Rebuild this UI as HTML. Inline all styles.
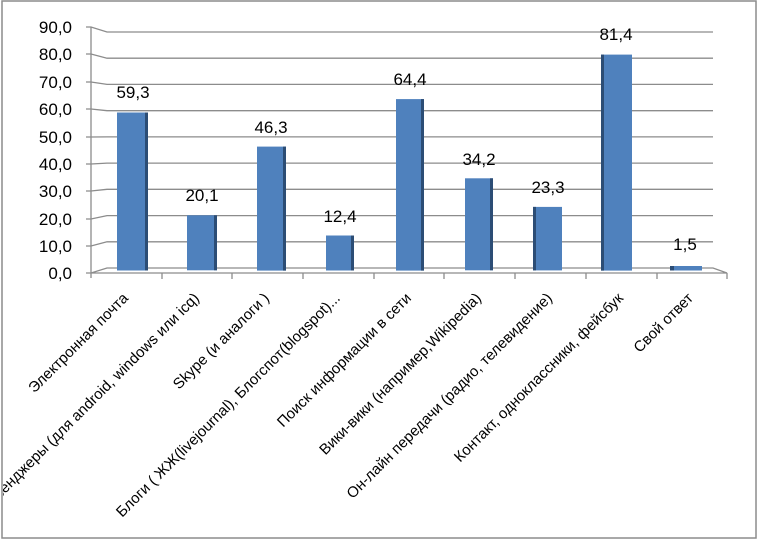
<!DOCTYPE html>
<html><head><meta charset="utf-8"><style>
html,body{margin:0;padding:0;background:#fff;}
svg{display:block;}
text{font-family:"Liberation Sans","DejaVu Sans",sans-serif;fill:#000;}
</style></head><body>
<svg width="758" height="540" viewBox="0 0 758 540" xmlns="http://www.w3.org/2000/svg">
<defs><clipPath id="c"><rect x="3" y="2" width="752" height="535"/></clipPath></defs>
<rect x="0" y="0" width="758" height="540" fill="#fff"/>
<rect x="2" y="1" width="754" height="537" fill="none" stroke="#8c8c8c" stroke-width="1.5"/>
<g stroke="#8c8c8c" stroke-width="1.3" fill="none">
<path d="M86 27 L91 27 L107 32 L713 32"/>
<path d="M86 54 L91 54 L107 58.2 L713 58.2"/>
<path d="M86 82 L91 82 L107 84.4 L713 84.4"/>
<path d="M86 109 L91 109 L107 110.7 L713 110.7"/>
<path d="M86 137 L91 137 L107 136.9 L713 136.9"/>
<path d="M86 164 L91 164 L107 163.1 L713 163.1"/>
<path d="M86 191 L91 191 L107 189.3 L713 189.3"/>
<path d="M86 219 L91 219 L107 215.6 L713 215.6"/>
<path d="M86 246 L91 246 L107 241.8 L713 241.8"/>
<path d="M86 273 L91 273 L107 268 L713 268 L727 273 L91 273"/>
<path d="M91 27 L91 278"/>
<path d="M162 273 V279 M232 273 V279 M303 273 V279 M374 273 V279 M444 273 V279 M515 273 V279 M586 273 V279 M657 273 V279 M727 273 V279"/>
</g>
<g font-size="17" text-anchor="end">
<text x="72" y="33">90,0</text><text x="72" y="60">80,0</text><text x="72" y="88">70,0</text><text x="72" y="115">60,0</text><text x="72" y="143">50,0</text><text x="72" y="170">40,0</text><text x="72" y="197">30,0</text><text x="72" y="225">20,0</text><text x="72" y="252">10,0</text><text x="72" y="279">0,0</text>
</g>
<g>
<rect x="117" y="112.5" width="31" height="158" fill="#4f81bd"/><rect x="145" y="112.5" width="3" height="158" fill="#2c4d75"/>
<rect x="187" y="215.3" width="30" height="55" fill="#4f81bd"/><rect x="214" y="215.3" width="3" height="55" fill="#2c4d75"/>
<rect x="257" y="146.6" width="29" height="124" fill="#4f81bd"/><rect x="283" y="146.6" width="3" height="124" fill="#2c4d75"/>
<rect x="326" y="235.5" width="28" height="35" fill="#4f81bd"/><rect x="351" y="235.5" width="3" height="35" fill="#2c4d75"/>
<rect x="396" y="99.1" width="28" height="171.5" fill="#4f81bd"/><rect x="421" y="99.1" width="3" height="171.5" fill="#2c4d75"/>
<rect x="465" y="178.3" width="28" height="92" fill="#4f81bd"/><rect x="490" y="178.3" width="3" height="92" fill="#2c4d75"/>
<rect x="533" y="206.9" width="29" height="63.5" fill="#4f81bd"/><rect x="533" y="206.9" width="3" height="63.5" fill="#2c4d75"/>
<rect x="601" y="54.6" width="31" height="216" fill="#4f81bd"/><rect x="601" y="54.6" width="3" height="216" fill="#2c4d75"/>
<rect x="670" y="266" width="32" height="4.5" fill="#4f81bd"/><rect x="670" y="266" width="4" height="4.5" fill="#2c4d75"/>
</g>
<g font-size="17" text-anchor="middle">
<text x="133" y="98">59,3</text>
<text x="202" y="201">20,1</text>
<text x="271" y="133">46,3</text>
<text x="340" y="222">12,4</text>
<text x="410" y="85">64,4</text>
<text x="479" y="165">34,2</text>
<text x="548" y="193">23,3</text>
<text x="616" y="40">81,4</text>
<text x="685" y="250">1,5</text>
</g>
<g font-size="15" text-anchor="end" clip-path="url(#c)">
<text transform="translate(129,299) rotate(-45)">Электронная почта</text>
<text transform="translate(200,299) rotate(-45)">Мессенджеры (для android, windows или icq)</text>
<text transform="translate(270,299) rotate(-45)">Skype (и аналоги )</text>
<text transform="translate(341,299) rotate(-45)">Блоги ( ЖЖ(livejournal), Блогспот(blogspot)...</text>
<text transform="translate(412,299) rotate(-45)">Поиск информации в сети</text>
<text transform="translate(482,299) rotate(-45)">Вики-вики (например,Wikipedia)</text>
<text transform="translate(553,299) rotate(-45)">Он-лайн передачи (радио, телевидение)</text>
<text transform="translate(624,299) rotate(-45)">Контакт, одноклассники, фейсбук</text>
<text transform="translate(694,299) rotate(-45)">Свой ответ</text>
</g>
</svg>
</body></html>
